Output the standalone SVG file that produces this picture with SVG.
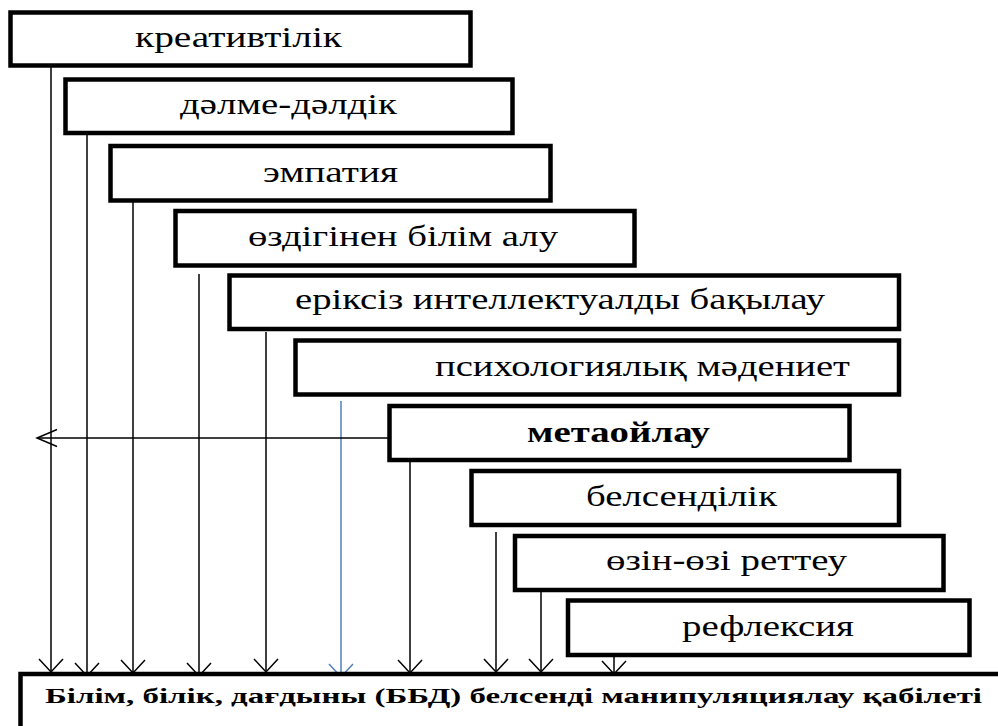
<svg xmlns="http://www.w3.org/2000/svg" width="998" height="726" viewBox="0 0 998 726">
<style>
.box{fill:#fff;stroke:#000;stroke-width:4.5}
.lbl{font-family:"Liberation Serif","Times New Roman",serif;font-size:29px;fill:#000}
.b{font-weight:bold}
.bot{font-family:"Liberation Serif","Times New Roman",serif;font-size:22px;font-weight:bold;fill:#000}
.conn{fill:none;stroke:#000;stroke-width:1.5}
.blue{stroke:#4F81BD}
</style>
<defs>
<marker id="ah" markerUnits="userSpaceOnUse" orient="auto" overflow="visible" refX="0" refY="0" markerWidth="30" markerHeight="30">
<path d="M-13,-12 L0,0 L-13,12" fill="none" stroke="#000" stroke-width="1.5"/>
</marker>
<marker id="ahb" markerUnits="userSpaceOnUse" orient="auto" overflow="visible" refX="0" refY="0" markerWidth="30" markerHeight="30">
<path d="M-13,-12 L0,0 L-13,12" fill="none" stroke="#4F81BD" stroke-width="1.5"/>
</marker>
<marker id="ahl" markerUnits="userSpaceOnUse" orient="auto" overflow="visible" refX="0" refY="0" markerWidth="30" markerHeight="30">
<path d="M-20,-8.5 L0,0 L-20,8.5" fill="none" stroke="#000" stroke-width="1.5"/>
</marker>
</defs>
<rect width="998" height="726" fill="#fff"/>

<g id="connectors">
<line class="conn" x1="51" y1="67" x2="51" y2="672" marker-end="url(#ah)"/>
<line class="conn" x1="87" y1="135" x2="87" y2="676" marker-end="url(#ah)"/>
<line class="conn" x1="133" y1="202" x2="133" y2="673" marker-end="url(#ah)"/>
<line class="conn" x1="199" y1="274" x2="199" y2="676" marker-end="url(#ah)"/>
<line class="conn" x1="266" y1="332" x2="266" y2="672" marker-end="url(#ah)"/>
<line class="conn blue" x1="341" y1="401" x2="341" y2="677" marker-end="url(#ahb)"/>
<line class="conn" x1="410" y1="462" x2="410" y2="673" marker-end="url(#ah)"/>
<line class="conn" x1="496" y1="532" x2="496" y2="672" marker-end="url(#ah)"/>
<line class="conn" x1="541" y1="592" x2="541" y2="672" marker-end="url(#ah)"/>
<line class="conn" x1="614" y1="657" x2="614" y2="674" marker-end="url(#ah)"/>
<line class="conn" x1="388" y1="438" x2="37" y2="438" marker-end="url(#ahl)"/>
</g>

<g id="n1"><rect class="box" x="10.5" y="12.5" width="460" height="53"/><text class="lbl" x="135" y="47" textLength="207" lengthAdjust="spacingAndGlyphs">креативтілік</text></g>
<g id="n2"><rect class="box" x="65.5" y="79.5" width="447" height="53.5"/><text class="lbl" x="180" y="114" textLength="217" lengthAdjust="spacingAndGlyphs">дәлме-дәлдік</text></g>
<g id="n3"><rect class="box" x="110.5" y="146" width="440" height="54.5"/><text class="lbl" x="263" y="182" textLength="135" lengthAdjust="spacingAndGlyphs">эмпатия</text></g>
<g id="n4"><rect class="box" x="175.5" y="211" width="459" height="54.5"/><text class="lbl" x="248" y="246" textLength="310" lengthAdjust="spacingAndGlyphs">өздігінен білім алу</text></g>
<g id="n5"><rect class="box" x="229.5" y="275.5" width="669.5" height="53.5"/><text class="lbl" x="295" y="309" textLength="530" lengthAdjust="spacingAndGlyphs">еріксіз интеллектуалды бақылау</text></g>
<g id="n6"><rect class="box" x="295.5" y="340.5" width="603.5" height="54"/><text class="lbl" x="435" y="376" textLength="415" lengthAdjust="spacingAndGlyphs">психологиялық мәдениет</text></g>
<g id="n7"><rect class="box" x="389.5" y="406" width="460" height="54"/><text class="lbl b" x="527" y="442" textLength="183" lengthAdjust="spacingAndGlyphs">метаойлау</text></g>
<g id="n8"><rect class="box" x="471.5" y="471" width="427.5" height="54"/><text class="lbl" x="586" y="506" textLength="191" lengthAdjust="spacingAndGlyphs">белсенділік</text></g>
<g id="n9"><rect class="box" x="515" y="536" width="428.5" height="54"/><text class="lbl" x="606" y="570" textLength="241" lengthAdjust="spacingAndGlyphs">өзін-өзі реттеу</text></g>
<g id="n10"><rect class="box" x="568" y="600.5" width="401.5" height="54.5"/><text class="lbl" x="682" y="636" textLength="172" lengthAdjust="spacingAndGlyphs">рефлексия</text></g>
<g id="n11"><rect class="box" x="20.5" y="674" width="1000" height="80"/><text class="bot" x="45" y="703" textLength="937" lengthAdjust="spacingAndGlyphs">Білім, білік, дағдыны (ББД) белсенді манипуляциялау қабілеті</text></g>
</svg>
